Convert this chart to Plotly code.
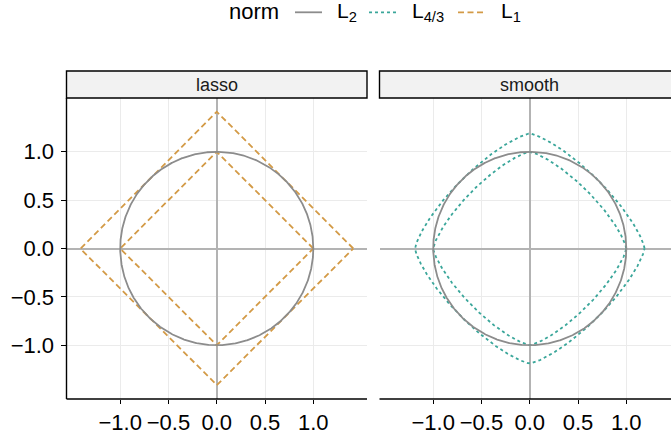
import numpy as np
import plotly.graph_objects as go

# ---- data ----
panels = ["lasso", "smooth"]
norm_keys = ["L2", "L43", "L1"]
norm_names = ["L<sub>2</sub>", "L<sub>4/3</sub>", "L<sub>1</sub>"]
norm_p = [2.0, 4.0 / 3.0, 1.0]
circle_radius = [1.0]               # L2 unit ball, both panels
lasso_l1_radii = [1.0, 1.414]       # L1 balls in lasso panel
smooth_l43_radii = [1.0, 1.189]     # L4/3 balls in smooth panel
tick_vals = [-1.0, -0.5, 0.0, 0.5, 1.0]
tick_text = ["\u22121.0", "\u22120.5", "0.0", "0.5", "1.0"]

# ---- styles ----
WIN_W, WIN_H = 671, 434
OFF = 0  # body margin removed via post_script
W, H = WIN_W - OFF, WIN_H - OFF
FONT = "Liberation Sans, Arial, sans-serif"
colors = {"L2": "#8c8c8c", "L43": "#3aa69a", "L1": "#d39a46"}
dashes = {"L2": "solid", "L43": "3px,3px", "L1": "6px,3.5px"}
LW = 1.8

theta = np.linspace(0, 2 * np.pi, 1441)


def lp_ball(p, r):
    c, s = np.cos(theta), np.sin(theta)
    e = 2.0 / p
    return r * np.sign(c) * np.abs(c) ** e, r * np.sign(s) * np.abs(s) ** e


fig = go.Figure()

panel_specs = [
    ("x", "y", [("L1", norm_p[2], r) for r in lasso_l1_radii]),
    ("x2", "y2", [("L43", norm_p[1], r) for r in smooth_l43_radii]),
]
for xa, ya, curves in panel_specs:
    allc = curves + [("L2", norm_p[0], r) for r in circle_radius]
    for key, p, r in allc:
        x, y = lp_ball(p, r)
        fig.add_trace(go.Scatter(
            x=x, y=y, mode="lines", xaxis=xa, yaxis=ya,
            line=dict(color=colors[key], width=LW, dash=dashes[key]),
            name=norm_names[norm_keys.index(key)], showlegend=False, hoverinfo="skip"))


# ---- layout geometry (window pixels, converted to figure) ----
def fx(px):
    return (px - OFF) / W


def fy(py):
    return 1 - (py - OFF) / H


L0, L1p = 66.5, 367.0
R0 = 379.5
TOP, BOT = 98.0, 399.0
STRIP_TOP = 71.0
ppu = (L1p - L0) / (2 * 1.556)
rng = [-1.556, 1.556]
r_rng = [-1.556, -1.556 + (WIN_W - R0) / ppu]

common = dict(showgrid=True, gridcolor="#ebebeb", gridwidth=1.1,
              zeroline=True, zerolinecolor="#b3b3b3", zerolinewidth=1.7,
              tickvals=tick_vals, ticktext=tick_text, ticks="outside",
              ticklen=5, tickwidth=1.2, tickcolor="black",
              tickfont=dict(size=22, color="black", family=FONT),
              showline=False, automargin=False, fixedrange=True)
xcommon = {**common, "ticklen": 4}

fig.update_layout(
    width=W, height=H, margin=dict(l=0, r=0, t=0, b=0, autoexpand=False),
    paper_bgcolor="white", plot_bgcolor="white", showlegend=False,
    font=dict(family=FONT, color="black"),
    xaxis=dict(domain=[fx(L0), fx(L1p)], range=rng, anchor="y", **xcommon),
    yaxis=dict(domain=[fy(BOT), fy(TOP)], range=rng, anchor="x", ticklabelstandoff=2, **common),
    xaxis2=dict(domain=[fx(R0), 1.0], range=r_rng, anchor="y2", **xcommon),
    yaxis2=dict(domain=[fy(BOT), fy(TOP)], range=rng, anchor="x2",
                **{**common, "showticklabels": False, "ticks": ""}),
)

shapes = []
# axis lines
shapes.append(dict(type="line", xref="paper", yref="paper",
                   x0=fx(L0), x1=fx(L0), y0=fy(BOT), y1=fy(TOP),
                   line=dict(color="black", width=1.4)))
shapes.append(dict(type="line", xref="paper", yref="paper",
                   x0=fx(L0), x1=fx(L1p), y0=fy(BOT), y1=fy(BOT),
                   line=dict(color="black", width=1.4)))
shapes.append(dict(type="line", xref="paper", yref="paper",
                   x0=fx(R0), x1=1.02, y0=fy(BOT), y1=fy(BOT),
                   line=dict(color="black", width=1.4)))
# strips
for (a, b) in [(L0, L1p), (R0, WIN_W + 15)]:
    shapes.append(dict(type="rect", xref="paper", yref="paper",
                       x0=fx(a), x1=fx(b), y0=fy(TOP), y1=fy(STRIP_TOP),
                       fillcolor="#f2f2f2", line=dict(color="black", width=1.4)))

# legend (keys drawn as layout shapes, labels as text)
LEG_Y = 12.3
leg_line_x = [(295, 322), (369, 396), (458, 485)]
leg_text_x = [335, 410, 499]
for key, name, (a, b), tx in zip(norm_keys, norm_names, leg_line_x, leg_text_x):
    shapes.append(dict(type="line", xref="paper", yref="paper",
                       x0=fx(a), x1=fx(b), y0=fy(LEG_Y), y1=fy(LEG_Y),
                       line=dict(color=colors[key], width=LW, dash=dashes[key])))
    fig.add_annotation(x=fx(tx), y=fy(11.5), xref="paper", yref="paper", text=name,
                       showarrow=False, xanchor="left", yanchor="middle",
                       font=dict(size=21, color="black", family=FONT))
fig.add_annotation(x=fx(227), y=fy(11.5), xref="paper", yref="paper", text="norm",
                   showarrow=False, xanchor="left", yanchor="middle",
                   font=dict(size=22, color="black", family=FONT))
fig.update_layout(shapes=shapes)

strip_centers = [(L0 + L1p) / 2, R0 + (L1p - L0) / 2]
for cx, lab in zip(strip_centers, panels):
    fig.add_annotation(x=fx(cx), y=fy((TOP + STRIP_TOP) / 2), xref="paper", yref="paper",
                       text=lab, showarrow=False, font=dict(size=18, color="#1a1a1a", family=FONT),
                       xanchor="center", yanchor="middle")

fig.write_html("out.html", config={"displayModeBar": False},
               post_script="document.body.style.margin='0px';document.body.style.overflow='hidden';")
